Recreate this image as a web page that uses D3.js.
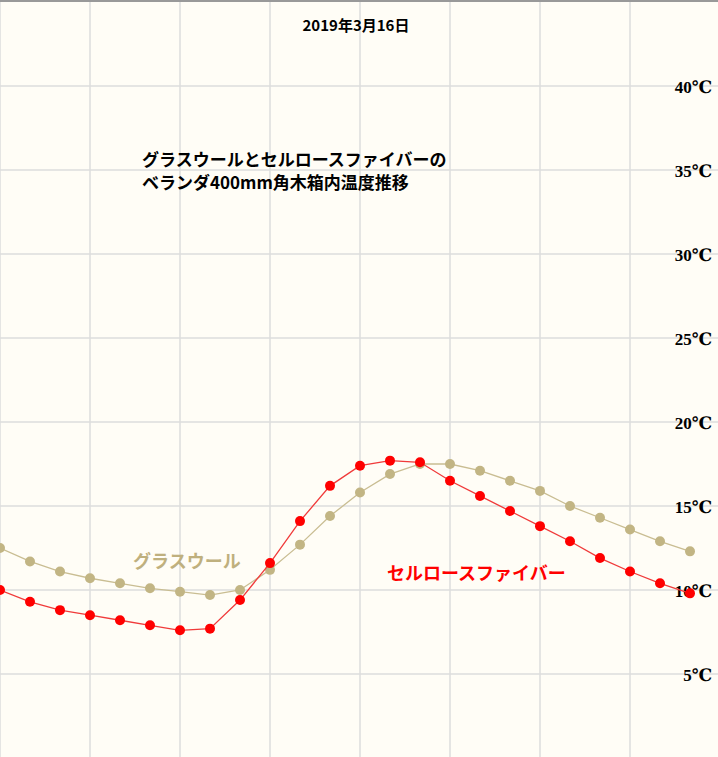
<!DOCTYPE html><html><head><meta charset="utf-8">
<script src="https://cdn.jsdelivr.net/npm/d3@7"></script>
<style>body{margin:0;background:#fffdf6}</style></head><body><svg id="c" width="718" height="757"></svg>
<script>
const hours = d3.range(24);
const glassWool = [12.5,11.7,11.1,10.7,10.4,10.1,9.9,9.7,10.0,11.2,12.7,14.4,15.8,16.9,17.5,17.5,17.1,16.5,15.9,15.0,14.3,13.6,12.9,12.3];
const cellulose = [10.0,9.3,8.8,8.5,8.2,7.9,7.6,7.7,9.4,11.6,14.1,16.2,17.4,17.7,17.6,16.5,15.6,14.7,13.8,12.9,11.9,11.1,10.4,9.8];
const yTicks = [5,10,15,20,25,30,35,40];
const xGrid = [0,3,6,9,12,15,18,21,24];

const svg = d3.select("#c");
const W=718,H=757;
const x = d3.scaleLinear().domain([0,1]).range([0,30]);
const y = d3.scaleLinear().domain([0,40]).range([758,86]);
svg.append("rect").attr("width",W).attr("height",H).attr("fill","#fffdf6");
svg.selectAll(".vg").data(xGrid).enter().append("line")
 .attr("x1",d=>x(d)).attr("x2",d=>x(d)).attr("y1",0).attr("y2",H).attr("stroke","#dcdcdc").attr("stroke-width",1.5);
svg.selectAll(".hg").data(yTicks).enter().append("line")
 .attr("x1",0).attr("x2",W).attr("y1",d=>y(d)).attr("y2",d=>y(d)).attr("stroke","#dcdcdc").attr("stroke-width",1.5);
svg.append("line").attr("x1",0).attr("x2",W).attr("y1",1).attr("y2",1).attr("stroke","#999").attr("stroke-width",2);
svg.selectAll(".yl").data(yTicks).enter().append("text")
 .attr("x",712).attr("y",d=>y(d)+7).attr("text-anchor","end")
 .attr("font-family","Liberation Serif, DejaVu Serif, serif").attr("font-weight","bold").attr("font-size",17)
 .text(d=>d+"℃");
function series(vals,col,lc){
  const line=d3.line().x((d,i)=>x(hours[i])).y(d=>y(d));
  svg.append("path").attr("d",line(vals)).attr("fill","none").attr("stroke",lc).attr("stroke-width",1.3);
  svg.selectAll(null).data(vals).enter().append("circle")
   .attr("cx",(d,i)=>x(hours[i])).attr("cy",d=>y(d)).attr("r",5).attr("fill",col);
}
series(glassWool,"#c2b584","#c9bd92");
series(cellulose,"#ff0000","#f03a3a");
const jp="Noto Sans CJK JP, serif";
svg.append("text").attr("x",356).attr("y",31).attr("text-anchor","middle").attr("font-family",jp).attr("font-weight","bold").attr("font-size",15).text("2019年3月16日");
svg.append("text").attr("x",142).attr("y",166).attr("font-family",jp).attr("font-weight","bold").attr("font-size",17).text("グラスウールとセルロースファイバーの");
svg.append("text").attr("x",142).attr("y",189).attr("font-family",jp).attr("font-weight","bold").attr("font-size",17).text("ベランダ400mm角木箱内温度推移");
svg.append("text").attr("x",133).attr("y",568).attr("font-family",jp).attr("font-weight","bold").attr("font-size",18).attr("fill","#bfb07e").text("グラスウール");
svg.append("text").attr("x",387).attr("y",580).attr("font-family",jp).attr("font-weight","bold").attr("font-size",18).attr("fill","#ff0000").text("セルロースファイバー");
</script></body></html>
